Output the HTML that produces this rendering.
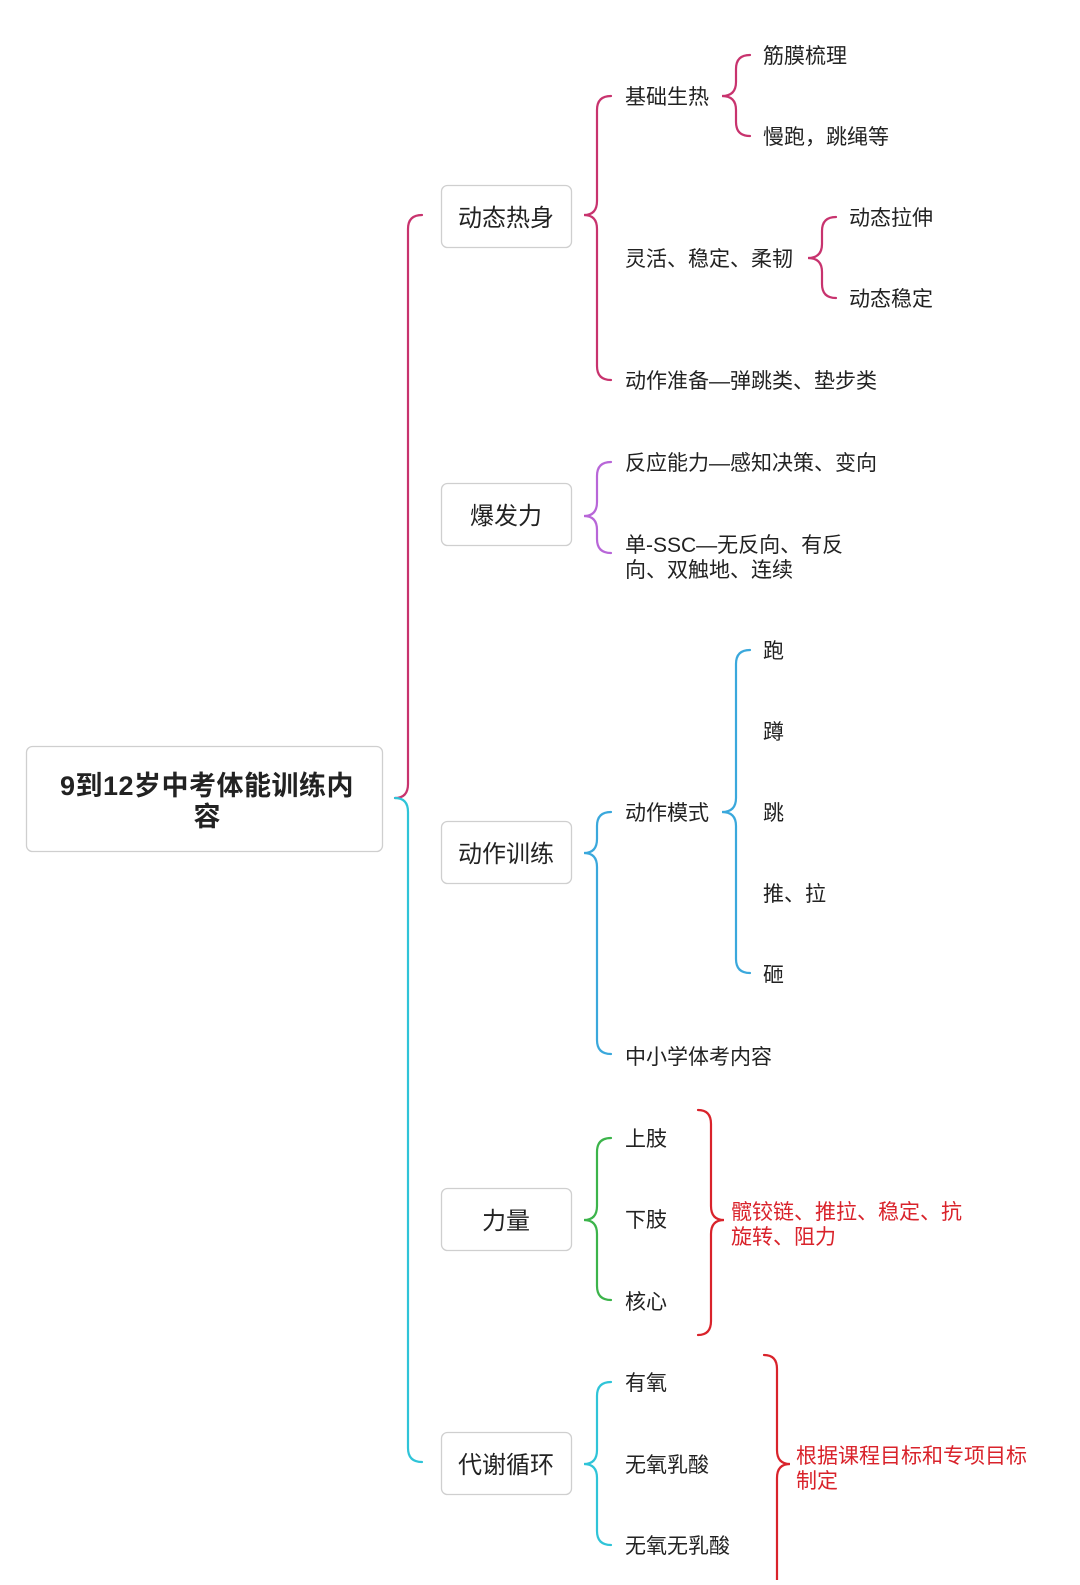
<!DOCTYPE html>
<html><head><meta charset="utf-8"><style>
html,body{margin:0;padding:0;background:#fff;}
svg text{font-family:"Liberation Sans","Noto Sans CJK SC",sans-serif;fill:#222;}
</style></head><body>
<svg width="1080" height="1580" viewBox="0 0 1080 1580" xmlns="http://www.w3.org/2000/svg">
<g fill="none" stroke-width="2.2" stroke-linecap="round">
<path d="M422,215 Q408,215 408,229 L408,784 Q408,798 395,798" stroke="#c8336e"/>
<path d="M395,798 Q408,798 408,812 L408,1448 Q408,1462 422,1462" stroke="#2fc4d8"/>
<path d="M611,96 Q597,96 597,110 L597,201 Q597,215 584,215 Q597,215 597,229 L597,366 Q597,380 611,380" stroke="#c8336e"/>
<path d="M750,55 Q736,55 736,69 L736,82 Q736,96 722,96 Q736,96 736,110 L736,122 Q736,136 750,136" stroke="#c8336e"/>
<path d="M836,217 Q822,217 822,231 L822,244 Q822,258 808,258 Q822,258 822,272 L822,284 Q822,298 836,298" stroke="#c8336e"/>
<path d="M611,462 Q597,462 597,476 L597,502 Q597,516 584,516 Q597,516 597,530 L597,539 Q597,553 611,553" stroke="#b866d8"/>
<path d="M611,812 Q597,812 597,826 L597,839 Q597,853 584,853 Q597,853 597,867 L597,1040 Q597,1054 611,1054" stroke="#3aa8dc"/>
<path d="M750,650 Q736,650 736,664 L736,798 Q736,812 722,812 Q736,812 736,826 L736,959 Q736,973 750,973" stroke="#3aa8dc"/>
<path d="M611,1138 Q597,1138 597,1152 L597,1206 Q597,1220 584,1220 Q597,1220 597,1234 L597,1286 Q597,1300 611,1300" stroke="#3cb44b"/>
<path d="M698,1110 Q711,1110 711,1124 L711,1206 Q711,1220 724,1220 Q711,1220 711,1234 L711,1321 Q711,1335 698,1335" stroke="#d9232b"/>
<path d="M611,1382 Q597,1382 597,1396 L597,1450 Q597,1464 584,1464 Q597,1464 597,1478 L597,1531 Q597,1545 611,1545" stroke="#2fc4d8"/>
<path d="M764,1355 Q777,1355 777,1369 L777,1450 Q777,1464 790,1464 Q777,1464 777,1478 L777,1590" stroke="#d9232b"/>
</g>
<g fill="#fff" stroke="#cfcfcf" stroke-width="1.3">
<rect x="26.5" y="746.5" width="356" height="105" rx="6"/>
<rect x="441.5" y="185.5" width="130" height="62" rx="6"/>
<rect x="441.5" y="483.5" width="130" height="62" rx="6"/>
<rect x="441.5" y="821.5" width="130" height="62" rx="6"/>
<rect x="441.5" y="1188.5" width="130" height="62" rx="6"/>
<rect x="441.5" y="1432.5" width="130" height="62" rx="6"/>
</g>
<g font-size="27" font-weight="bold" text-anchor="middle">
<text x="207" y="795" letter-spacing="0.5">9到12岁中考体能训练内</text>
<text x="207" y="826">容</text>
</g>
<g font-size="24" text-anchor="middle">
<text x="506" y="226">动态热身</text>
<text x="506" y="524">爆发力</text>
<text x="506" y="862">动作训练</text>
<text x="506" y="1229">力量</text>
<text x="506" y="1473">代谢循环</text>
</g>
<g font-size="21">
<text x="625" y="104">基础生热</text>
<text x="763" y="63">筋膜梳理</text>
<text x="763" y="144">慢跑，跳绳等</text>
<text x="625" y="266">灵活、稳定、柔韧</text>
<text x="849" y="225">动态拉伸</text>
<text x="849" y="306">动态稳定</text>
<text x="625" y="388">动作准备—弹跳类、垫步类</text>
<text x="625" y="470">反应能力—感知决策、变向</text>
<text x="625" y="552">单-SSC—无反向、有反</text>
<text x="625" y="577">向、双触地、连续</text>
<text x="625" y="820">动作模式</text>
<text x="763" y="658">跑</text>
<text x="763" y="739">蹲</text>
<text x="763" y="820">跳</text>
<text x="763" y="901">推、拉</text>
<text x="763" y="982">砸</text>
<text x="625" y="1064">中小学体考内容</text>
<text x="625" y="1146">上肢</text>
<text x="625" y="1227">下肢</text>
<text x="625" y="1309">核心</text>
<text x="625" y="1390">有氧</text>
<text x="625" y="1472">无氧乳酸</text>
<text x="625" y="1553">无氧无乳酸</text>
</g>
<g font-size="21">
<text x="731" y="1219" style="fill:#d9232b">髋铰链、推拉、稳定、抗</text>
<text x="731" y="1244" style="fill:#d9232b">旋转、阻力</text>
<text x="796" y="1463" style="fill:#d9232b">根据课程目标和专项目标</text>
<text x="796" y="1488" style="fill:#d9232b">制定</text>
</g>
</svg>
</body></html>
